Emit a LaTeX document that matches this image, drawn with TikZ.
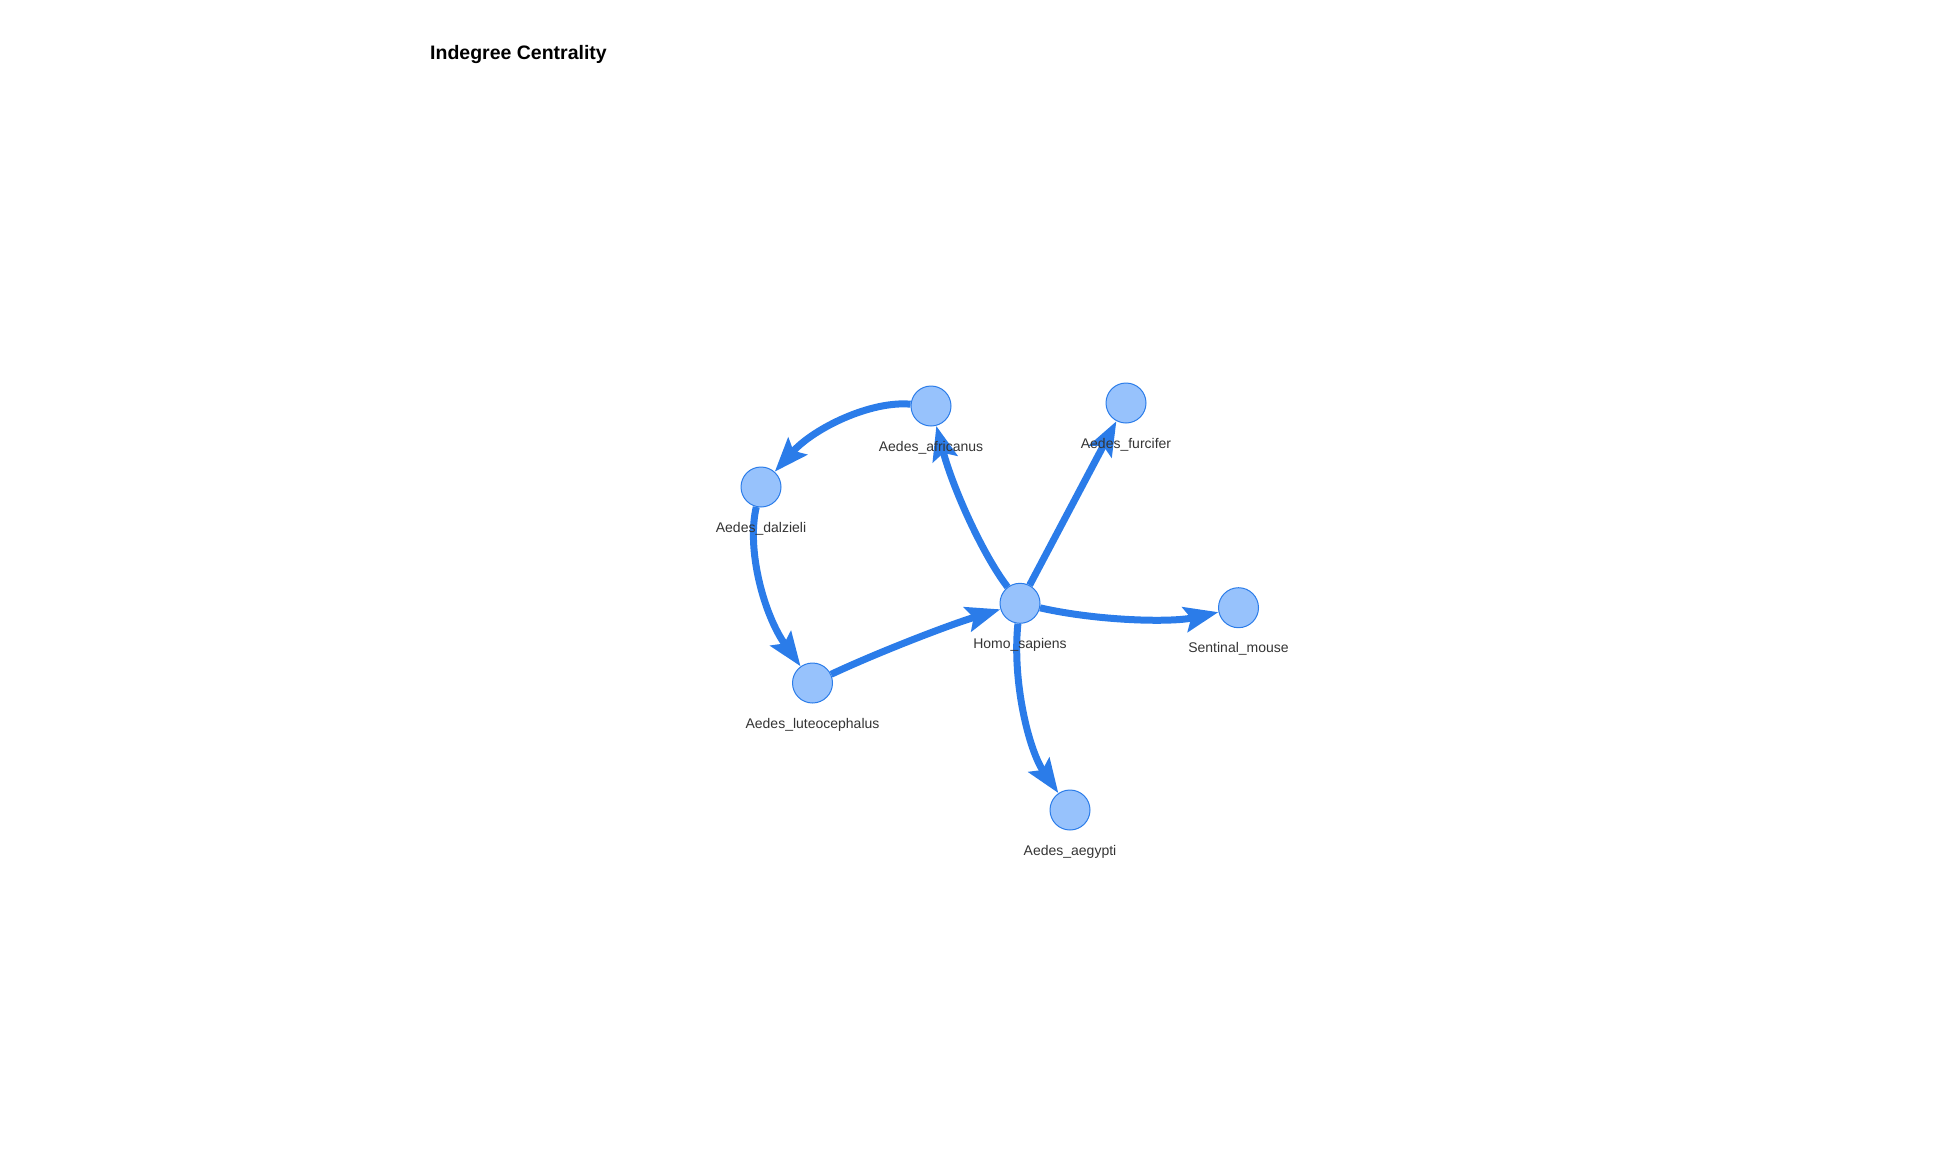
\documentclass[tikz,border=0pt]{standalone}
\usepackage{fontspec}
\setmainfont{Liberation Sans}
\usetikzlibrary{arrows.meta,calc,backgrounds}
\definecolor{nodefill}{HTML}{97C2FC}
\definecolor{nodeline}{HTML}{2B7CE9}
\definecolor{edgecol}{HTML}{2B7CE9}
\definecolor{labelcol}{HTML}{343434}
\begin{document}
\begin{tikzpicture}[x=1pt,y=-1pt,
 vnode/.style={circle,fill=nodefill,draw=nodeline,line width=1pt,minimum size=40pt,inner sep=0pt},
 vlabel/.style={anchor=base,font=\fontsize{14}{16}\selectfont,text=labelcol,inner sep=0pt},
 vedge/.style={draw=edgecol,line width=7pt,-{Stealth[length=34pt,width=25pt,inset=6pt]}}]
\useasboundingbox (0,0) rectangle (1960,1154);
\node[anchor=base west,font=\bfseries\fontsize{19.5}{24}\selectfont,inner sep=0pt] (title) at (430,59) {Indegree Centrality};
\node[vnode] (afr) at (931,406) {};
\node[vnode] (fur) at (1126,403) {};
\node[vnode] (dal) at (761,487) {};
\node[vnode] (homo) at (1020,603.3) {};
\node[vnode] (mouse) at (1238.5,607.7) {};
\node[vnode] (lute) at (812.5,683) {};
\node[vnode] (aeg) at (1070,810) {};
\node[vlabel] (lafr) at ($(afr)+(0,45)$) {Aedes\_africanus};
\node[vlabel] (lfur) at ($(fur)+(0,45)$) {Aedes\_furcifer};
\node[vlabel] (ldal) at ($(dal)+(0,45)$) {Aedes\_dalzieli};
\node[vlabel] (lhomo) at ($(homo)+(0,45)$) {Homo\_sapiens};
\node[vlabel] (lmouse) at ($(mouse)+(0,45)$) {Sentinal\_mouse};
\node[vlabel] (llute) at ($(lute)+(0,45)$) {Aedes\_luteocephalus};
\node[vlabel] (laeg) at ($(aeg)+(0,45)$) {Aedes\_aegypti};
\coordinate (c1) at (841,398);
\coordinate (c2) at (739,580);
\coordinate (c3) at (913,636);
\coordinate (c4) at (964,530);
\coordinate (c6) at (1138,630);
\coordinate (c7) at (1008,720);
\begin{pgfonlayer}{background}
\draw[vedge] (afr) .. controls ($(afr)!0.6667!(c1)$) and ($(dal)!0.6667!(c1)$) .. (dal);
\draw[vedge] (dal) .. controls ($(dal)!0.6667!(c2)$) and ($(lute)!0.6667!(c2)$) .. (lute);
\draw[vedge] (lute) .. controls ($(lute)!0.6667!(c3)$) and ($(homo)!0.6667!(c3)$) .. (homo);
\draw[vedge] (homo) .. controls ($(homo)!0.6667!(c4)$) and ($(afr)!0.6667!(c4)$) .. (afr);
\draw[vedge] (homo) -- (fur);
\draw[vedge] (homo) .. controls ($(homo)!0.6667!(c6)$) and ($(mouse)!0.6667!(c6)$) .. (mouse);
\draw[vedge] (homo) .. controls ($(homo)!0.6667!(c7)$) and ($(aeg)!0.6667!(c7)$) .. (aeg);
\end{pgfonlayer}
\end{tikzpicture}
\end{document}
